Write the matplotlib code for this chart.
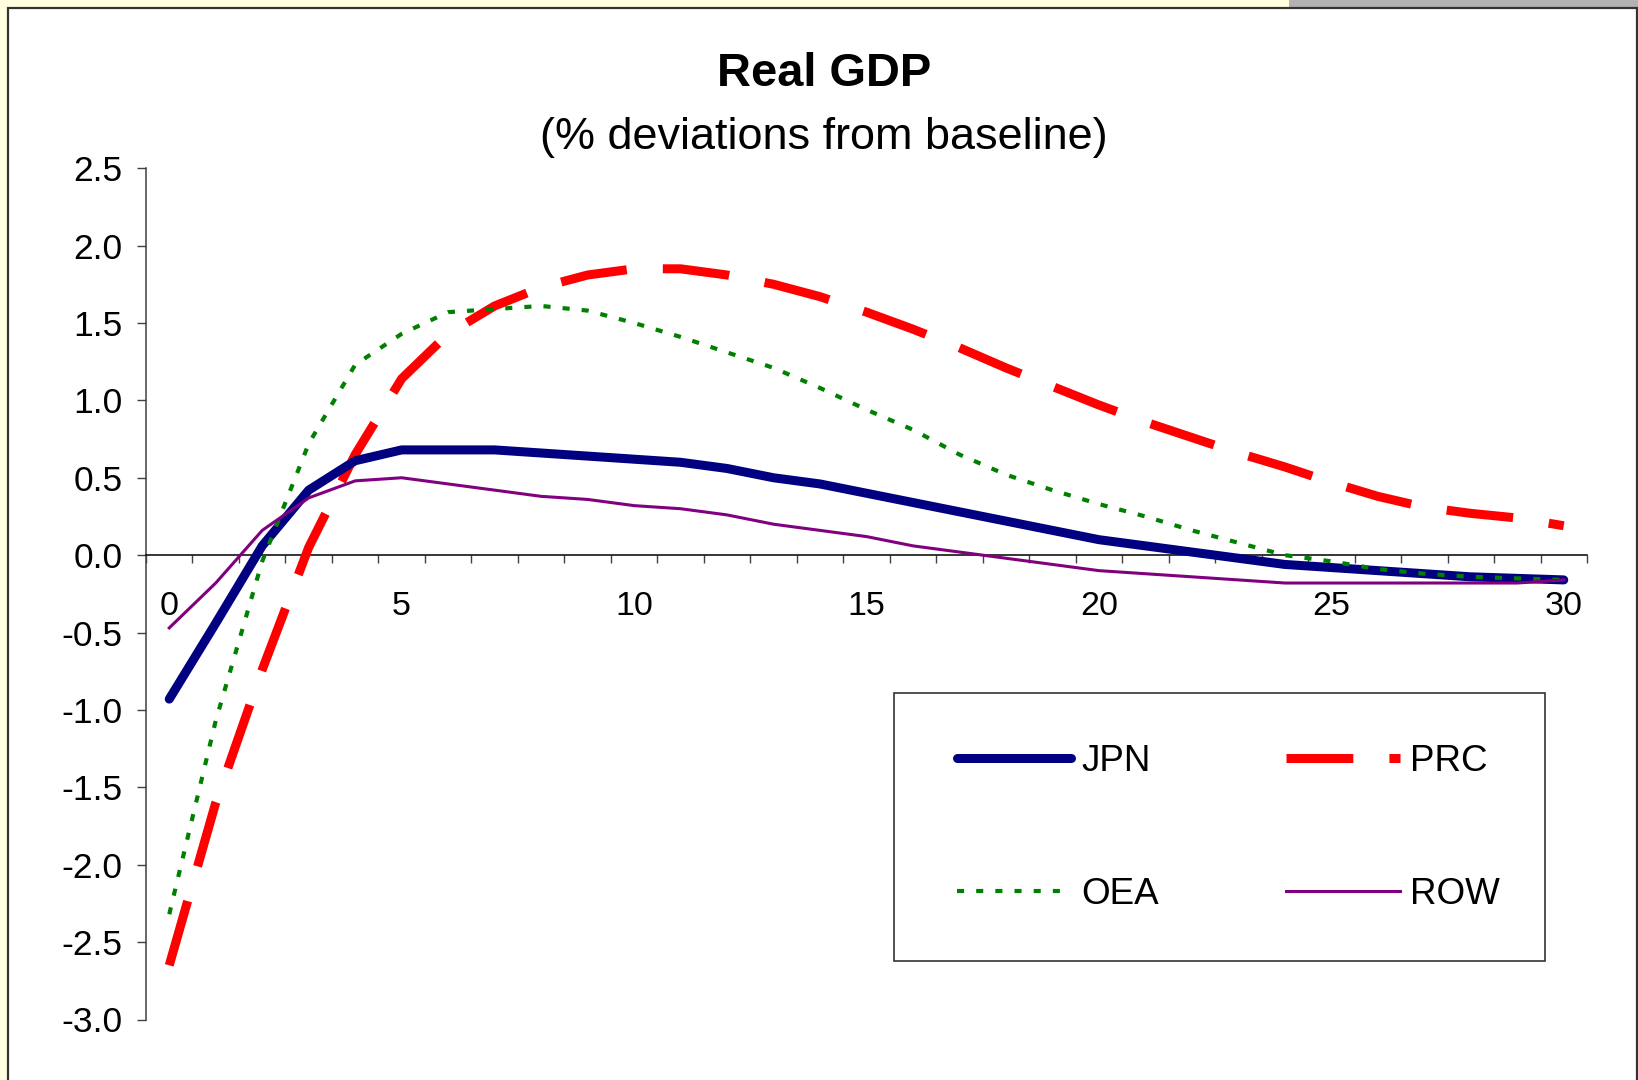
import matplotlib
matplotlib.use("Agg")
import matplotlib.pyplot as plt
from matplotlib.patches import Rectangle
from matplotlib.ticker import FixedLocator, NullFormatter, FixedFormatter

plt.rcParams["font.family"] = ["Liberation Sans", "DejaVu Sans"]

# Quarters after the shock
periods = list(range(31))
xtick_labels = ["0", "5", "10", "15", "20", "25", "30"]
ytick_values = [2.5, 2.0, 1.5, 1.0, 0.5, 0.0, -0.5, -1.0, -1.5, -2.0, -2.5, -3.0]

# Real GDP, % deviation from baseline
jpn = [-0.93, -0.44, 0.06, 0.42, 0.61, 0.68, 0.68, 0.68, 0.66, 0.64, 0.62,
       0.60, 0.56, 0.50, 0.46, 0.40, 0.34, 0.28, 0.22, 0.16, 0.10, 0.06,
       0.02, -0.02, -0.06, -0.08, -0.10, -0.12, -0.14, -0.15, -0.16]
prc = [-2.65, -1.60, -0.74, 0.05, 0.65, 1.14, 1.43, 1.61, 1.73, 1.81, 1.85,
       1.85, 1.81, 1.75, 1.67, 1.57, 1.46, 1.34, 1.21, 1.09, 0.97, 0.86,
       0.76, 0.66, 0.57, 0.47, 0.38, 0.31, 0.27, 0.24, 0.19]
oea = [-2.32, -1.07, -0.04, 0.72, 1.23, 1.43, 1.57, 1.59, 1.61, 1.58, 1.50,
       1.41, 1.31, 1.21, 1.08, 0.94, 0.81, 0.65, 0.52, 0.42, 0.33, 0.25,
       0.16, 0.08, 0.00, -0.04, -0.09, -0.12, -0.14, -0.15, -0.16]
row = [-0.47, -0.18, 0.16, 0.37, 0.48, 0.50, 0.46, 0.42, 0.38, 0.36, 0.32,
       0.30, 0.26, 0.20, 0.16, 0.12, 0.06, 0.02, -0.02, -0.06, -0.10, -0.12,
       -0.14, -0.16, -0.18, -0.18, -0.18, -0.18, -0.18, -0.18, -0.16]

W, H = 1638, 1080
fig = plt.figure(figsize=(W / 100, H / 100), dpi=100, facecolor="#FFFFE0")

# window background: grey strip, white chart panel
fig.patches.append(Rectangle((1289 / W, 1 - 8 / H), 1, 8 / H, transform=fig.transFigure,
                             facecolor="#B2B2B2", edgecolor="none", zorder=0))
fig.patches.append(Rectangle((8 / W, -0.02), (1637 - 8) / W, 1.02 - 8 / H,
                             transform=fig.transFigure, facecolor="white",
                             edgecolor="#333333", linewidth=1.6, zorder=1))
# legend box
fig.patches.append(Rectangle((894 / W, 1 - 961 / H), (1545 - 894) / W, (961 - 693) / H,
                             transform=fig.transFigure, facecolor="white",
                             edgecolor="#333333", linewidth=1.2, zorder=2))

ax = fig.add_axes([146 / W, 1 - 1019.5 / H, (1587 - 146) / W, (1019.5 - 168.2) / H])
ax.set_facecolor("none")
ax.set_zorder(3)

ax.plot(periods, jpn, color="#000080", lw=6.5, solid_capstyle="round",
        solid_joinstyle="round", label="JPN", zorder=4)
ax.plot(periods, prc, color="#FF0000", lw=6.5, dashes=(7.4, 4.0),
        dash_capstyle="butt", label="PRC", zorder=3)
ax.plot(periods, oea, color="#008000", lw=3.0, dashes=(1.7, 2.9),
        dash_capstyle="butt", label="OEA", zorder=5)
ax.plot(periods, row, color="#800080", lw=2.2, label="ROW", zorder=6)

ax.set_xlim(-0.5, 30.5)
ax.set_ylim(-3.0, 2.5)

for side in ("top", "right"):
    ax.spines[side].set_visible(False)
ax.spines["bottom"].set_position(("data", 0))
ax.spines["bottom"].set_color("black")
ax.spines["bottom"].set_linewidth(1.1)
ax.spines["left"].set_color("#404040")
ax.spines["left"].set_linewidth(1.1)

ax.xaxis.set_major_locator(FixedLocator([i - 0.5 for i in range(32)]))
ax.xaxis.set_major_formatter(NullFormatter())
ax.xaxis.set_minor_locator(FixedLocator([int(s) for s in xtick_labels]))
ax.xaxis.set_minor_formatter(FixedFormatter(xtick_labels))
ax.tick_params(axis="x", which="major", direction="out", length=5.5, width=1.0,
               color="#404040")
ax.tick_params(axis="x", which="minor", length=0, pad=25.5, labelsize=24.5)

ax.set_yticks(ytick_values)
ax.set_yticklabels([f"{v:.1f}" for v in ytick_values])
ax.tick_params(axis="y", direction="out", length=6.5, width=1.0, color="#404040",
               pad=10.5, labelsize=25.5)

fig.text(824 / W, 1 - 74 / H, "Real GDP", ha="center", va="center",
         fontsize=33.8, fontweight="bold", zorder=3)
fig.text(824 / W, 1 - 137 / H, "(% deviations from baseline)", ha="center",
         va="center", fontsize=32.4, zorder=3)

handles, labels = ax.get_legend_handles_labels()
order = [0, 2, 1, 3]
leg = ax.legend([handles[i] for i in order], [labels[i] for i in order], ncol=2,
                loc="upper left", bbox_to_anchor=(957 / W, 1 - 744 / H),
                bbox_transform=fig.transFigure, frameon=False, borderpad=0,
                borderaxespad=0, handlelength=3.1, handletextpad=0.28,
                columnspacing=3.45, labelspacing=2.665, fontsize=26.5)
leg.set_zorder(7)

fig.savefig("out.png", dpi=100, facecolor=fig.get_facecolor())
